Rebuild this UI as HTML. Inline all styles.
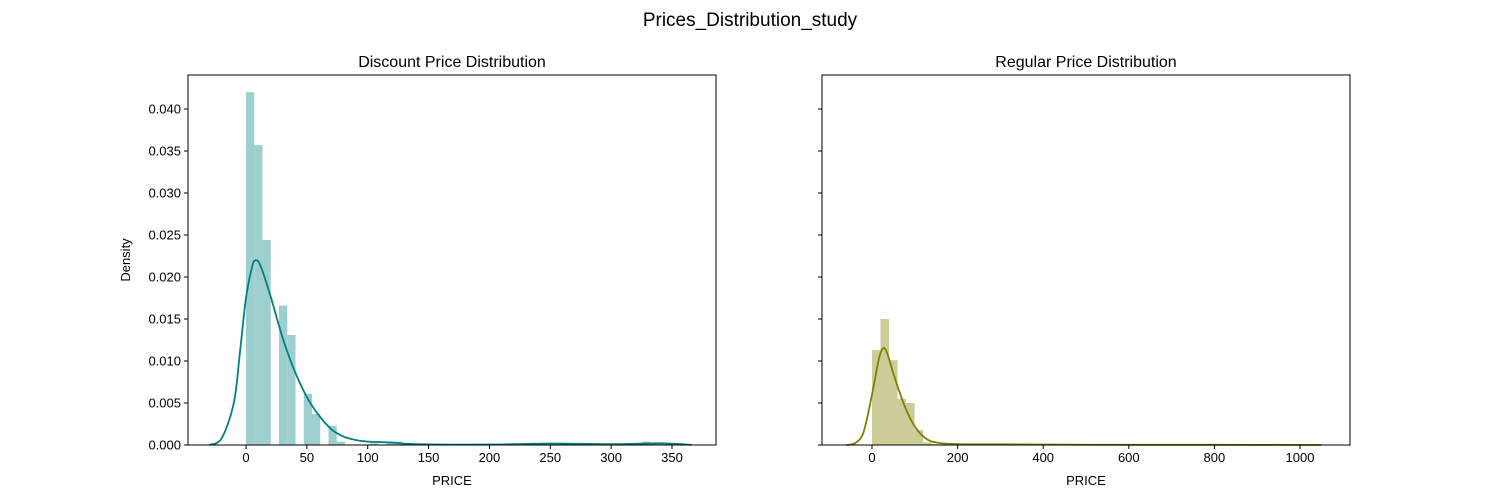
<!DOCTYPE html>
<html><head><meta charset="utf-8"><style>
html,body{margin:0;padding:0;background:#fff}
svg{display:block;font-family:"Liberation Sans","DejaVu Sans",sans-serif}
</style></head><body>
<svg id="c" width="1500" height="500">
<text x="750" y="26" font-size="19" text-anchor="middle">Prices_Distribution_study</text>
</svg>
<script>
// Left: Discount price histogram (50 bins, 0..339)
const leftBinStart = 0;
const leftBinWidth = 6.78;
const leftDensities = [0.0420,0.0357,0.0244,0,0.0166,0.0131,0,0.0061,0.0037,0,0.0023,0.0004,0,0,0,0.0002,0,0.0003,0.0004,0.0001,0,0,0,0,0.00005,0,0,0,0,0,0,0,0,0,0,0.0001,0.0002,0.0002,0,0,0,0,0.0001,0.0001,0,0,0,0,0.0004,0.0003];
const leftKdeX = [-30,-20,-10,-5,0,5,8,12,20,30,40,50,60,70,80,90,100,120,140,200,250,300,340,366];
const leftKdeY = [0,0.0008,0.005,0.011,0.0175,0.0212,0.022,0.0213,0.0178,0.0128,0.0088,0.0057,0.0035,0.0019,0.001,0.0006,0.0004,0.0003,0.0001,0.00005,0.00018,0.0001,0.0002,0.00002];
const leftXTicks = [0,50,100,150,200,250,300,350];
// Right: Regular price histogram
const rightBinStart = 0;
const rightBinWidth = 19.9;
const rightDensities = [0.0113,0.0150,0.0101,0.0055,0.0050,0.0018,0.0003,0.0001,0.0001,0,0,0,0.00005,0,0,0,0,0,0,0,0.00003,0,0,0,0,0,0,0,0,0,0,0,0,0,0,0,0,0,0,0,0,0,0,0,0,0,0,0,0,0.00002];
const rightKdeX = [-60,-40,-20,0,15,25,35,50,75,100,125,150,200,300,500,800,1050];
const rightKdeY = [0,0.0002,0.0015,0.006,0.0100,0.0115,0.011,0.0085,0.0048,0.0022,0.0008,0.0003,0.0001,0.00008,0.00003,0.00002,0];
const rightXTicks = [0,200,400,600,800,1000];
const yTicks = [0,0.005,0.010,0.015,0.020,0.025,0.030,0.035,0.040];
const yTickLabels = ["0.000","0.005","0.010","0.015","0.020","0.025","0.030","0.035","0.040"];

const NS="http://www.w3.org/2000/svg";
const svg=document.getElementById('c');
function mk(tag,attrs,parent){const e=document.createElementNS(NS,tag);for(const k in attrs)e.setAttribute(k,attrs[k]);(parent||svg).appendChild(e);return e;}
const axTop=75,axBot=445;
const y=v=>axBot-v*8400;

function smoothPath(pts){
  let d='M'+pts[0][0].toFixed(2)+','+pts[0][1].toFixed(2);
  for(let i=0;i<pts.length-1;i++){
    const p0=pts[Math.max(0,i-1)],p1=pts[i],p2=pts[i+1],p3=pts[Math.min(pts.length-1,i+2)];
    const c1=[p1[0]+(p2[0]-p0[0])/6,p1[1]+(p2[1]-p0[1])/6];
    const c2=[p2[0]-(p3[0]-p1[0])/6,p2[1]-(p3[1]-p1[1])/6];
    c1[1]=Math.min(c1[1],axBot);c2[1]=Math.min(c2[1],axBot);
    d+='C'+c1[0].toFixed(2)+','+c1[1].toFixed(2)+' '+c2[0].toFixed(2)+','+c2[1].toFixed(2)+' '+p2[0].toFixed(2)+','+p2[1].toFixed(2);
  }
  return d;
}

function panel(name,x0,x1,xs,binStart,binW,dens,kx,ky,ticks,barColor,lineColor,title,showY){
  const g=mk('g',{});
  
  
  dens.forEach((d,i)=>{ if(d<=0)return;
    const a=xs(binStart+i*binW),b=xs(binStart+(i+1)*binW);
    const r=mk('rect',{x:a,y:y(d),width:b-a,height:axBot-y(d),fill:barColor},g);
    
    
  });
  const pts=kx.map((v,i)=>[xs(v),y(ky[i])]);
  const p=mk('path',{d:smoothPath(pts),fill:'none',stroke:lineColor,'stroke-width':1.8,'stroke-linejoin':'round'},g);
  
  
  const fr=mk('rect',{x:x0,y:axTop,width:x1-x0,height:axBot-axTop,fill:'none',stroke:'#000','stroke-width':1},g);
  
  
  ticks.forEach(t=>{const X=xs(t);
    mk('line',{x1:X,x2:X,y1:axBot,y2:axBot+4,stroke:'#000'},g);
    const tx=mk('text',{x:X,y:axBot+17,'font-size':13,'text-anchor':'middle'},g);tx.textContent=t;
    
    
  });
  yTicks.forEach((t,i)=>{const Y=y(t);
    mk('line',{x1:x0-4,x2:x0,y1:Y,y2:Y,stroke:'#000'},g);
    if(showY){const tx=mk('text',{x:x0-7,y:Y+4.5,'font-size':13,'text-anchor':'end'},g);tx.textContent=yTickLabels[i];
      
      }
  });
  const xl=mk('text',{x:(x0+x1)/2,y:485,'font-size':13,'text-anchor':'middle'},g);xl.textContent='PRICE';
  
  
  const tt=mk('text',{x:(x0+x1)/2,y:67,'font-size':16,'text-anchor':'middle'},g);tt.textContent=title;
  
  
}
panel('discount-price-panel',188,716,v=>246+v*426/350,leftBinStart,leftBinWidth,leftDensities,leftKdeX,leftKdeY,leftXTicks,'#9ecfcf','#008080','Discount Price Distribution',true);
panel('regular-price-panel',822,1350,v=>872+v*0.428,rightBinStart,rightBinWidth,rightDensities,rightKdeX,rightKdeY,rightXTicks,'#cccc99','#808000','Regular Price Distribution',false);
const yl=mk('text',{x:0,y:0,'font-size':13,'text-anchor':'middle',transform:'translate(130,260) rotate(-90)'});
yl.textContent='Density';


</script>
</body></html>
